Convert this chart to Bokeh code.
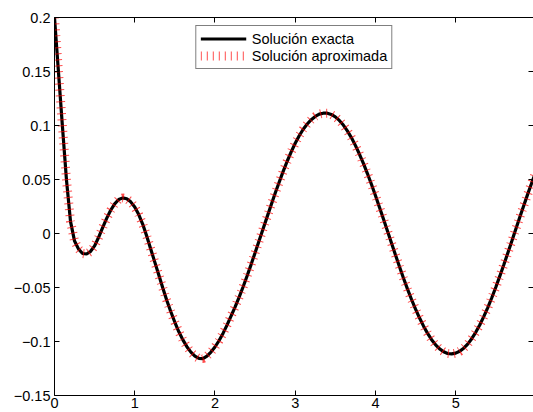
from bokeh.plotting import figure
from bokeh.models import FixedTicker, CustomJSTickFormatter, LinearAxis, Range1d
from bokeh.embed import file_html
from bokeh.resources import INLINE
import numpy as np

# Sample positions (t from 0 to 6, step 0.05)
x = np.linspace(0, 6, 121)

# Exact solution values at each sample
y_exacta = [
    0.2000, 0.1490, 0.0980, 0.0490, 0.0110, -0.0070, -0.0145, -0.0185, -0.0190, -0.0165,
    -0.0115, -0.0035, 0.0055, 0.0140, 0.0215, 0.0275, 0.0315, 0.0330, 0.0322, 0.0293,
    0.0245, 0.0175, 0.0085, -0.0025, -0.0145, -0.0265, -0.0385, -0.0505, -0.0620, -0.0725,
    -0.0822, -0.0910, -0.0985, -0.1048, -0.1098, -0.1135, -0.1157, -0.1158,
    -0.1135, -0.1098, -0.1051, -0.0993, -0.0925, -0.0848, -0.0765, -0.0681, -0.0591, -0.0495,
    -0.0394, -0.0288, -0.0179, -0.0068, 0.0043, 0.0154, 0.0264, 0.0372, 0.0475, 0.0575,
    0.0669, 0.0756, 0.0836, 0.0905, 0.0965, 0.1014, 0.1054, 0.1084, 0.1105, 0.1114,
    0.1114, 0.1102, 0.1080, 0.1047, 0.1004, 0.0950, 0.0888, 0.0816, 0.0736, 0.0649,
    0.0555, 0.0456, 0.0352, 0.0244, 0.0134, 0.0023, -0.0088, -0.0199, -0.0307, -0.0414,
    -0.0515, -0.0611, -0.0701, -0.0783, -0.0858, -0.0925, -0.0983, -0.1031, -0.1068, -0.1095,
    -0.1111, -0.1115, -0.1108, -0.1091, -0.1062, -0.1024, -0.0974, -0.0915, -0.0847, -0.0770,
    -0.0686, -0.0595, -0.0498, -0.0395, -0.0289, -0.0180, -0.0070, 0.0042, 0.0153, 0.0262,
    0.0369, 0.0473, 0.0571,
]

# Approximate solution (coincides with the exact one at this scale)
y_aprox = list(y_exacta)

x_ticks = [0, 1, 2, 3, 4, 5, 6]
y_ticks = [-0.15, -0.1, -0.05, 0, 0.05, 0.1, 0.15, 0.2]

FONT = "Liberation Sans"
FSIZE = "14.5px"

p = figure(
    width=533, height=412,
    x_range=Range1d(0, 5.97), y_range=Range1d(-0.15, 0.2),
    output_backend="svg", toolbar_location=None,
    min_border_left=54, min_border_right=0, min_border_top=17, min_border_bottom=17,
    background_fill_color="white", border_fill_color="white",
)
p.outline_line_color = None
p.xgrid.visible = False
p.ygrid.visible = False

p.line(x, y_exacta, line_color="black", line_width=3.2, legend_label="Solución exacta")
p.line(x, y_aprox, line_color="red", line_width=9, line_dash="1 5", line_alpha=0.7,
       legend_label="Solución aproximada")

def style_axis(ax, ticks, show_labels=True):
    ax.ticker = FixedTicker(ticks=ticks)
    ax.major_tick_in = 5
    ax.major_tick_out = 0
    ax.minor_tick_line_color = None
    ax.axis_line_color = "black"
    ax.axis_line_width = 1
    ax.major_tick_line_color = "black"
    ax.major_label_text_font = FONT
    ax.major_label_text_color = "black"
    ax.major_label_text_font_size = FSIZE
    if not show_labels:
        # tick marks only, no labels on the mirrored sides
        ax.formatter = CustomJSTickFormatter(code="return '';")
        ax.major_label_standoff = 0

style_axis(p.xaxis[0], x_ticks)
p.xaxis[0].major_label_standoff = 2
style_axis(p.yaxis[0], y_ticks)
p.yaxis[0].major_label_standoff = 4
p.yaxis[0].formatter = CustomJSTickFormatter(code="""
    const s = Math.abs(tick).toFixed(2).replace(/0+$/, '').replace(/\\.$/, '');
    return (tick < -1e-9 ? '\\u2212' : '') + s;
""")

top_axis = LinearAxis()
style_axis(top_axis, x_ticks, show_labels=False)
p.add_layout(top_axis, "above")

right_axis = LinearAxis()
style_axis(right_axis, y_ticks, show_labels=False)
right_axis.axis_line_color = None
p.add_layout(right_axis, "right")

lg = p.legend[0]
lg.location = "top_center"
lg.margin = 8
lg.padding = 4
lg.spacing = 0
lg.glyph_width = 46
lg.glyph_height = 17
lg.label_height = 17
lg.label_standoff = 6
lg.label_text_font = FONT
lg.label_text_font_size = FSIZE
lg.label_text_color = "black"
lg.border_line_color = "black"
lg.border_line_width = 1
lg.background_fill_color = "white"
lg.background_fill_alpha = 1.0

open("out.html", "w").write(file_html(p, INLINE))
